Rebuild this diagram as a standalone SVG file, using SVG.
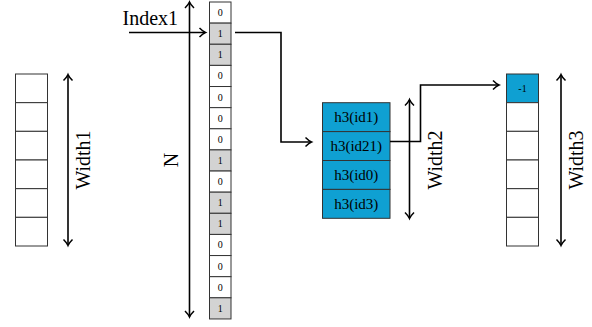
<svg xmlns="http://www.w3.org/2000/svg" width="592" height="327" viewBox="0 0 592 327">
<style>
.cell{fill:#ffffff;stroke:#333333;stroke-width:1}
.g{fill:#d3d3d3}
.b{fill:#0fa0d2}
.ln{fill:none;stroke:#000;stroke-width:1.6}
.lbl{font-family:"Liberation Serif",serif;font-size:20px;fill:#000}
.bit{font-family:"Liberation Serif",serif;font-size:10px;fill:#000;text-anchor:middle}
.h{font-family:"Liberation Serif",serif;font-size:15px;fill:#000;text-anchor:middle}
</style>
<defs>
<marker id="ah" markerUnits="userSpaceOnUse" markerWidth="12" markerHeight="12" viewBox="-8 -6 10 12" refX="0" refY="0" orient="auto-start-reverse">
<path d="M-5.5,-4.5 Q-2,-1 0.5,0 Q-2,1 -5.5,4.5" fill="none" stroke="#000" stroke-width="1.5"/>
</marker>
</defs>

<g id="width1-array">
<rect class="cell" x="15.5" y="74" width="32" height="28.67"/>
<rect class="cell" x="15.5" y="102.67" width="32" height="28.67"/>
<rect class="cell" x="15.5" y="131.33" width="32" height="28.67"/>
<rect class="cell" x="15.5" y="160" width="32" height="28.67"/>
<rect class="cell" x="15.5" y="188.67" width="32" height="28.67"/>
<rect class="cell" x="15.5" y="217.33" width="32" height="28.67"/>
</g>
<g id="width1-label">
<text class="lbl" transform="translate(90,160) rotate(-90)" text-anchor="middle">Width1</text>
</g>

<g id="bit-array">
<rect class="cell" x="209.5" y="2" width="21.5" height="21.13"/>
<rect class="cell g" x="209.5" y="23.13" width="21.5" height="21.13"/>
<rect class="cell g" x="209.5" y="44.26" width="21.5" height="21.13"/>
<rect class="cell" x="209.5" y="65.39" width="21.5" height="21.13"/>
<rect class="cell" x="209.5" y="86.52" width="21.5" height="21.13"/>
<rect class="cell" x="209.5" y="107.65" width="21.5" height="21.13"/>
<rect class="cell" x="209.5" y="128.78" width="21.5" height="21.13"/>
<rect class="cell g" x="209.5" y="149.91" width="21.5" height="21.13"/>
<rect class="cell" x="209.5" y="171.04" width="21.5" height="21.13"/>
<rect class="cell g" x="209.5" y="192.17" width="21.5" height="21.13"/>
<rect class="cell g" x="209.5" y="213.3" width="21.5" height="21.13"/>
<rect class="cell" x="209.5" y="234.43" width="21.5" height="21.13"/>
<rect class="cell" x="209.5" y="255.56" width="21.5" height="21.13"/>
<rect class="cell" x="209.5" y="276.69" width="21.5" height="21.13"/>
<rect class="cell g" x="209.5" y="297.82" width="21.5" height="21.13"/>
<text class="bit" x="220.25" y="16">0</text>
<text class="bit" x="220.25" y="37.1">1</text>
<text class="bit" x="220.25" y="58.2">1</text>
<text class="bit" x="220.25" y="79.4">0</text>
<text class="bit" x="220.25" y="100.5">0</text>
<text class="bit" x="220.25" y="121.6">0</text>
<text class="bit" x="220.25" y="142.8">0</text>
<text class="bit" x="220.25" y="163.9">1</text>
<text class="bit" x="220.25" y="185">0</text>
<text class="bit" x="220.25" y="206.2">1</text>
<text class="bit" x="220.25" y="227.3">1</text>
<text class="bit" x="220.25" y="248.4">0</text>
<text class="bit" x="220.25" y="269.5">0</text>
<text class="bit" x="220.25" y="290.7">0</text>
<text class="bit" x="220.25" y="311.8">1</text>
</g>
<g id="n-label">
<text class="lbl" transform="translate(178,160) rotate(-90)" text-anchor="middle">N</text>
</g>
<g id="index1-label">
<text class="lbl" x="122.5" y="25">Index1</text>
</g>

<g id="hash-array">
<rect class="cell b" x="322.5" y="102.7" width="67.5" height="28.9"/>
<rect class="cell b" x="322.5" y="131.6" width="67.5" height="28.9"/>
<rect class="cell b" x="322.5" y="160.5" width="67.5" height="28.9"/>
<rect class="cell b" x="322.5" y="189.4" width="67.5" height="28.9"/>
<text class="h" x="356.25" y="122">h3(id1)</text>
<text class="h" x="356.25" y="150.9">h3(id21)</text>
<text class="h" x="356.25" y="179.8">h3(id0)</text>
<text class="h" x="356.25" y="208.7">h3(id3)</text>
</g>
<g id="width2-label">
<text class="lbl" transform="translate(441.5,160) rotate(-90)" text-anchor="middle">Width2</text>
</g>

<g id="width3-array">
<rect class="cell b" x="506.5" y="74" width="32" height="28.67"/>
<rect class="cell" x="506.5" y="102.67" width="32" height="28.67"/>
<rect class="cell" x="506.5" y="131.33" width="32" height="28.67"/>
<rect class="cell" x="506.5" y="160" width="32" height="28.67"/>
<rect class="cell" x="506.5" y="188.67" width="32" height="28.67"/>
<rect class="cell" x="506.5" y="217.33" width="32" height="28.67"/>
<text class="bit" x="522.5" y="92" font-size="9">-1</text>
</g>
<g id="width3-label">
<text class="lbl" transform="translate(583,160) rotate(-90)" text-anchor="middle">Width3</text>
</g>

<g id="connectors">
<line class="ln" x1="68" y1="75" x2="68" y2="245" marker-start="url(#ah)" marker-end="url(#ah)"/>
<line class="ln" x1="189.5" y1="2.5" x2="189.5" y2="316.5" marker-start="url(#ah)" marker-end="url(#ah)"/>
<line class="ln" x1="129" y1="32.5" x2="205" y2="32.5" marker-end="url(#ah)"/>
<path class="ln" d="M235,32.5 H281 V142 H311" marker-end="url(#ah)"/>
<line class="ln" x1="409.5" y1="100" x2="409.5" y2="218" marker-start="url(#ah)" marker-end="url(#ah)"/>
<path class="ln" d="M390,141.5 H420.5 V85 H498.5" marker-end="url(#ah)"/>
<line class="ln" x1="561" y1="75" x2="561" y2="245" marker-start="url(#ah)" marker-end="url(#ah)"/>
</g>
</svg>
